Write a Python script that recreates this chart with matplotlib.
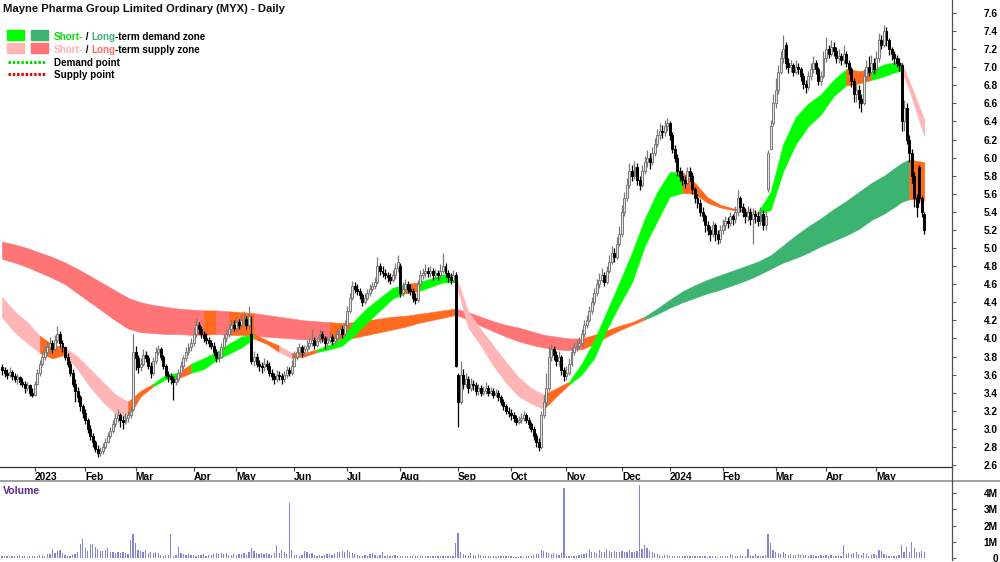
import numpy as np
import pandas as pd
import matplotlib
matplotlib.use("Agg")
import matplotlib.pyplot as plt
from matplotlib.patches import Rectangle
from matplotlib.lines import Line2D

plt.rcParams['font.family'] = ['Liberation Sans', 'DejaVu Sans']

# ---------------- trading calendar ----------------
holidays = ['2022-12-26', '2022-12-27', '2023-01-02', '2023-01-26', '2023-04-07',
            '2023-04-10', '2023-04-25', '2023-06-12', '2023-12-25', '2023-12-26',
            '2024-01-01', '2024-01-26', '2024-03-29', '2024-04-01', '2024-04-25']
first_day, last_day = '2022-12-12', '2024-05-28'

# ---------------- daily prices (A$) ----------------
opens = [
 3.68, 3.65, 3.62, 3.60, 3.63, 3.58, 3.55, 3.57, 3.52, 3.50, 3.45, 3.48, 3.40,
 3.38, 3.50, 3.62, 3.72, 3.80, 3.85, 3.90, 3.95, 3.88, 3.98, 4.05, 3.95, 3.90, 3.80, 3.72, 3.62, 3.50, 3.42, 3.35, 3.25,
 3.18, 3.10, 3.00, 2.92, 2.85, 2.78, 2.73, 2.76, 2.80, 2.86, 2.92, 2.98, 3.05, 3.12, 3.15, 3.10, 3.08, 3.12, 3.15, 3.22,
 3.85, 3.78, 3.68, 3.72, 3.82, 3.78, 3.70, 3.62, 3.75, 3.85, 3.88, 3.80, 3.70, 3.60, 3.58, 3.55, 3.52, 3.55, 3.62, 3.70, 3.78, 3.85, 3.90,
 3.95, 4.05, 4.15, 4.10, 4.05, 4.00, 3.98, 3.95, 3.92, 3.85, 3.78, 3.80, 3.90, 4.00, 4.05, 4.10, 4.15,
 4.12, 4.18, 4.15, 4.20, 4.22, 4.15, 4.05, 3.75, 3.80, 3.72, 3.70, 3.68, 3.72, 3.70, 3.62, 3.58, 3.55, 3.60, 3.58, 3.55, 3.60, 3.65, 3.62,
 3.70, 3.80, 3.85, 3.90, 3.85, 3.88, 3.92, 3.95, 3.98, 3.93, 3.97, 4.05, 4.00, 3.95, 3.98, 4.02, 3.97, 4.00, 4.05, 4.10, 4.05,
 4.15, 4.30, 4.45, 4.58, 4.55, 4.52, 4.48, 4.40, 4.45, 4.50, 4.55, 4.58, 4.62, 4.80, 4.75, 4.72, 4.70, 4.68, 4.65, 4.70, 4.78,
 4.80, 4.50, 4.55, 4.60, 4.55, 4.52, 4.45, 4.42, 4.60, 4.70, 4.72, 4.75, 4.72, 4.75, 4.70, 4.72, 4.70, 4.75, 4.80, 4.72, 4.68, 4.65, 4.70,
 3.60, 3.30, 3.60, 3.50, 3.55, 3.45, 3.50, 3.48, 3.42, 3.45, 3.40, 3.42, 3.45, 3.40, 3.42, 3.38, 3.40, 3.35, 3.30, 3.25, 3.20,
 3.18, 3.15, 3.12, 3.08, 3.10, 3.12, 3.15, 3.10, 3.05, 3.00, 2.92, 2.85, 2.80, 3.15, 3.30, 3.45, 3.80, 3.88, 3.82, 3.75, 3.80, 3.65,
 3.58, 3.62, 3.72, 3.85, 3.90, 3.92, 3.95, 4.05, 4.15, 4.20, 4.30, 4.40, 4.50, 4.60, 4.65, 4.70, 4.62, 4.75, 4.85, 4.95, 4.90, 5.05,
 5.15, 5.40, 5.55, 5.70, 5.85, 5.80, 5.90, 5.75, 5.70, 5.85, 5.95, 6.00, 5.95, 6.05, 6.15, 6.25, 6.30, 6.28, 6.35,
 6.38, 6.25, 6.10, 6.00, 5.85, 5.80, 5.75, 5.72, 5.85, 5.80, 5.65, 5.55, 5.50, 5.40, 5.35, 5.25, 5.20, 5.15, 5.25, 5.15, 5.10,
 5.20, 5.25, 5.30, 5.28, 5.35, 5.32, 5.40, 5.55, 5.45, 5.40, 5.35, 5.40, 5.32, 5.38, 5.35, 5.30, 5.38, 5.25, 5.65, 6.10, 6.38,
 6.60, 6.75, 6.95, 7.10, 7.25, 7.05, 7.00, 7.02, 6.95, 7.00, 6.98, 6.90, 6.82, 6.78, 6.90, 6.98, 7.05, 6.98, 6.85, 6.90,
 7.10, 7.20, 7.15, 7.22, 7.18, 7.10, 7.12, 7.08, 7.15, 7.05, 6.98, 6.85, 6.70, 6.75, 6.65, 6.60, 6.90, 7.00, 6.95, 7.05,
 6.98, 7.10, 7.30, 7.25, 7.40, 7.30, 7.20, 7.15, 7.10, 7.05, 7.02, 6.40, 6.55, 6.20, 6.05, 5.80, 5.55, 5.90, 5.55, 5.38,
]
highs = [
 3.72, 3.68, 3.66, 3.68, 3.65, 3.62, 3.61, 3.59, 3.56, 3.53, 3.52, 3.50, 3.45,
 3.53, 3.66, 3.76, 3.86, 3.92, 3.96, 4.02, 3.98, 4.04, 4.14, 4.08, 3.98, 3.92, 3.84, 3.75, 3.66, 3.55, 3.46, 3.38, 3.28,
 3.22, 3.12, 3.04, 2.95, 2.88, 2.82, 2.80, 2.84, 2.90, 2.96, 3.02, 3.10, 3.18, 3.22, 3.18, 3.14, 3.18, 3.20, 3.25, 4.05,
 3.92, 3.82, 3.78, 3.88, 3.86, 3.82, 3.74, 3.80, 3.90, 3.93, 3.90, 3.82, 3.72, 3.64, 3.62, 3.58, 3.60, 3.66, 3.75, 3.82, 3.90, 3.95, 4.00,
 4.12, 4.23, 4.18, 4.14, 4.08, 4.06, 4.02, 3.98, 3.96, 3.88, 3.86, 3.95, 4.05, 4.10, 4.16, 4.22, 4.20,
 4.24, 4.22, 4.26, 4.30, 4.25, 4.36, 4.25, 3.86, 3.84, 3.76, 3.74, 3.78, 3.76, 3.74, 3.66, 3.62, 3.65, 3.64, 3.62, 3.64, 3.70, 3.68, 3.76,
 3.86, 3.90, 3.95, 3.93, 3.93, 3.98, 4.00, 4.10, 4.02, 4.02, 4.10, 4.08, 4.03, 4.03, 4.07, 4.05, 4.05, 4.10, 4.15, 4.14, 4.20,
 4.36, 4.50, 4.64, 4.62, 4.60, 4.56, 4.50, 4.50, 4.55, 4.60, 4.63, 4.68, 4.90, 4.84, 4.80, 4.77, 4.74, 4.72, 4.76, 4.84, 4.92,
 4.84, 4.62, 4.66, 4.64, 4.60, 4.56, 4.50, 4.65, 4.76, 4.78, 4.82, 4.79, 4.80, 4.78, 4.77, 4.76, 4.82, 4.94, 4.84, 4.76, 4.72, 4.76, 4.74,
 3.62, 3.75, 3.66, 3.62, 3.58, 3.56, 3.54, 3.52, 3.50, 3.48, 3.47, 3.52, 3.48, 3.46, 3.45, 3.44, 3.43, 3.38, 3.33, 3.28, 3.24,
 3.22, 3.19, 3.15, 3.14, 3.17, 3.20, 3.18, 3.13, 3.08, 3.03, 2.95, 2.90, 3.20, 3.36, 3.62, 3.90, 3.94, 3.92, 3.86, 3.86, 3.82, 3.68,
 3.70, 3.78, 3.90, 3.96, 3.98, 4.02, 4.10, 4.20, 4.26, 4.36, 4.46, 4.56, 4.66, 4.72, 4.78, 4.74, 4.80, 4.92, 5.02, 5.00, 5.12, 5.24,
 5.48, 5.62, 5.78, 5.94, 5.92, 5.96, 5.94, 5.80, 5.92, 6.02, 6.08, 6.05, 6.12, 6.22, 6.32, 6.38, 6.36, 6.42, 6.44,
 6.40, 6.28, 6.14, 6.04, 5.90, 5.86, 5.80, 5.90, 5.90, 5.84, 5.68, 5.60, 5.54, 5.45, 5.38, 5.30, 5.24, 5.30, 5.28, 5.20, 5.26,
 5.32, 5.36, 5.34, 5.40, 5.38, 5.46, 5.64, 5.58, 5.50, 5.44, 5.46, 5.44, 5.44, 5.42, 5.40, 5.45, 5.42, 5.42, 6.08, 6.42, 6.70,
 6.88, 7.02, 7.18, 7.36, 7.28, 7.10, 7.08, 7.05, 7.08, 7.05, 7.00, 6.94, 6.86, 6.96, 7.05, 7.12, 7.08, 7.00, 6.96, 7.18,
 7.33, 7.25, 7.30, 7.28, 7.22, 7.20, 7.16, 7.25, 7.18, 7.08, 7.00, 6.88, 6.82, 6.80, 6.70, 6.98, 7.08, 7.12, 7.14, 7.10,
 7.18, 7.38, 7.36, 7.47, 7.44, 7.32, 7.22, 7.18, 7.14, 7.10, 7.05, 6.64, 6.60, 6.25, 6.10, 5.84, 5.60, 5.92, 5.58, 5.40,
]
lows = [
 3.60, 3.57, 3.55, 3.57, 3.54, 3.52, 3.50, 3.48, 3.46, 3.40, 3.42, 3.36, 3.35,
 3.36, 3.48, 3.58, 3.70, 3.76, 3.82, 3.86, 3.84, 3.86, 3.95, 3.90, 3.85, 3.76, 3.68, 3.58, 3.46, 3.30, 3.30, 3.20, 3.12,
 3.05, 2.95, 2.88, 2.80, 2.74, 2.69, 2.70, 2.72, 2.78, 2.84, 2.90, 2.95, 3.02, 3.08, 3.02, 3.00, 3.05, 3.08, 3.12, 3.20,
 3.65, 3.62, 3.64, 3.70, 3.74, 3.66, 3.56, 3.60, 3.72, 3.82, 3.76, 3.66, 3.56, 3.52, 3.50, 3.32, 3.48, 3.52, 3.60, 3.66, 3.75, 3.82, 3.86,
 3.92, 4.02, 4.05, 4.00, 3.96, 3.94, 3.90, 3.88, 3.82, 3.74, 3.74, 3.78, 3.88, 3.96, 4.02, 4.06, 4.08,
 4.08, 4.10, 4.12, 4.16, 4.10, 4.12, 3.72, 3.70, 3.68, 3.64, 3.62, 3.64, 3.65, 3.58, 3.54, 3.50, 3.52, 3.54, 3.50, 3.52, 3.56, 3.58, 3.60,
 3.68, 3.76, 3.82, 3.80, 3.82, 3.85, 3.88, 3.92, 3.88, 3.90, 3.95, 3.96, 3.88, 3.92, 3.95, 3.93, 3.94, 3.97, 4.02, 4.00, 4.03,
 4.12, 4.28, 4.42, 4.50, 4.48, 4.44, 4.36, 4.38, 4.42, 4.47, 4.52, 4.55, 4.60, 4.70, 4.68, 4.66, 4.63, 4.60, 4.62, 4.66, 4.74,
 4.46, 4.47, 4.52, 4.50, 4.48, 4.40, 4.38, 4.40, 4.58, 4.66, 4.68, 4.68, 4.68, 4.65, 4.66, 4.65, 4.67, 4.72, 4.68, 4.62, 4.60, 4.62, 3.68,
 3.02, 3.28, 3.44, 3.46, 3.40, 3.42, 3.43, 3.38, 3.38, 3.36, 3.37, 3.39, 3.36, 3.37, 3.34, 3.35, 3.31, 3.26, 3.21, 3.16, 3.13,
 3.10, 3.08, 3.04, 3.05, 3.07, 3.09, 3.06, 3.01, 2.96, 2.88, 2.80, 2.76, 2.78, 3.12, 3.25, 3.42, 3.75, 3.76, 3.70, 3.70, 3.60, 3.53,
 3.54, 3.60, 3.70, 3.82, 3.86, 3.88, 3.92, 4.02, 4.12, 4.18, 4.27, 4.37, 4.47, 4.56, 4.62, 4.58, 4.60, 4.72, 4.82, 4.85, 4.88, 5.02,
 5.12, 5.36, 5.52, 5.66, 5.74, 5.76, 5.70, 5.64, 5.68, 5.82, 5.90, 5.88, 5.92, 6.02, 6.12, 6.20, 6.22, 6.24, 6.30,
 6.20, 6.05, 5.95, 5.80, 5.74, 5.70, 5.66, 5.70, 5.74, 5.60, 5.50, 5.44, 5.35, 5.30, 5.18, 5.14, 5.08, 5.12, 5.08, 5.04, 5.06,
 5.16, 5.20, 5.22, 5.24, 5.26, 5.28, 5.36, 5.40, 5.34, 5.28, 5.30, 5.26, 5.05, 5.28, 5.24, 5.26, 5.20, 5.20, 5.62, 6.08, 6.35,
 6.55, 6.70, 6.92, 7.05, 6.98, 6.94, 6.95, 6.90, 6.92, 6.92, 6.85, 6.76, 6.72, 6.75, 6.86, 6.94, 6.92, 6.80, 6.80, 6.88,
 7.06, 7.10, 7.12, 7.12, 7.05, 7.05, 7.02, 7.04, 7.00, 6.92, 6.78, 6.62, 6.62, 6.55, 6.50, 6.58, 6.86, 6.90, 6.92, 6.92,
 6.94, 7.06, 7.20, 7.22, 7.24, 7.14, 7.08, 7.04, 7.00, 6.96, 6.30, 6.30, 6.15, 5.95, 5.72, 5.45, 5.34, 5.50, 5.34, 5.16,
]
closes = [
 3.65, 3.62, 3.60, 3.63, 3.58, 3.55, 3.57, 3.52, 3.50, 3.45, 3.48, 3.40, 3.38,
 3.50, 3.62, 3.72, 3.80, 3.85, 3.90, 3.95, 3.88, 3.98, 4.05, 3.95, 3.90, 3.80, 3.72, 3.62, 3.50, 3.42, 3.35, 3.25, 3.18,
 3.10, 3.00, 2.92, 2.85, 2.78, 2.73, 2.76, 2.80, 2.86, 2.92, 2.98, 3.05, 3.12, 3.15, 3.10, 3.08, 3.12, 3.15, 3.20, 3.85,
 3.78, 3.68, 3.72, 3.82, 3.78, 3.70, 3.62, 3.75, 3.85, 3.88, 3.80, 3.70, 3.60, 3.58, 3.55, 3.52, 3.55, 3.62, 3.70, 3.78, 3.85, 3.90, 3.95,
 4.05, 4.15, 4.10, 4.05, 4.00, 3.98, 3.95, 3.92, 3.85, 3.78, 3.80, 3.90, 4.00, 4.05, 4.10, 4.15, 4.12,
 4.18, 4.15, 4.20, 4.22, 4.15, 4.25, 3.75, 3.80, 3.72, 3.70, 3.68, 3.72, 3.70, 3.62, 3.58, 3.55, 3.60, 3.58, 3.55, 3.60, 3.65, 3.62, 3.70,
 3.80, 3.85, 3.90, 3.85, 3.88, 3.92, 3.95, 3.98, 3.93, 3.97, 4.05, 4.00, 3.95, 3.98, 4.02, 3.97, 4.00, 4.05, 4.10, 4.05, 4.15,
 4.30, 4.45, 4.58, 4.55, 4.52, 4.48, 4.40, 4.45, 4.50, 4.55, 4.58, 4.62, 4.80, 4.75, 4.72, 4.70, 4.68, 4.65, 4.70, 4.78, 4.85,
 4.50, 4.55, 4.60, 4.55, 4.52, 4.45, 4.42, 4.60, 4.70, 4.72, 4.75, 4.72, 4.75, 4.70, 4.72, 4.70, 4.75, 4.80, 4.72, 4.68, 4.65, 4.70, 3.70,
 3.30, 3.60, 3.50, 3.55, 3.45, 3.50, 3.48, 3.42, 3.45, 3.40, 3.42, 3.45, 3.40, 3.42, 3.38, 3.40, 3.35, 3.30, 3.25, 3.20, 3.18,
 3.15, 3.12, 3.08, 3.10, 3.12, 3.15, 3.10, 3.05, 3.00, 2.92, 2.85, 2.80, 3.15, 3.30, 3.45, 3.80, 3.88, 3.82, 3.75, 3.80, 3.65, 3.58,
 3.62, 3.72, 3.85, 3.90, 3.92, 3.95, 4.05, 4.15, 4.20, 4.30, 4.40, 4.50, 4.60, 4.65, 4.70, 4.62, 4.75, 4.85, 4.95, 4.90, 5.05, 5.15,
 5.40, 5.55, 5.70, 5.85, 5.80, 5.90, 5.75, 5.70, 5.85, 5.95, 6.00, 5.95, 6.05, 6.15, 6.25, 6.30, 6.28, 6.35, 6.38,
 6.25, 6.10, 6.00, 5.85, 5.80, 5.75, 5.72, 5.85, 5.80, 5.65, 5.55, 5.50, 5.40, 5.35, 5.25, 5.20, 5.15, 5.25, 5.15, 5.10, 5.20,
 5.25, 5.30, 5.28, 5.35, 5.32, 5.40, 5.55, 5.45, 5.40, 5.35, 5.40, 5.32, 5.38, 5.35, 5.30, 5.38, 5.25, 5.35, 6.05, 6.35, 6.60,
 6.75, 6.95, 7.10, 7.20, 7.05, 7.00, 7.02, 6.95, 7.00, 6.98, 6.90, 6.82, 6.78, 6.90, 6.98, 7.05, 6.98, 6.85, 6.90, 7.10,
 7.20, 7.15, 7.22, 7.18, 7.10, 7.12, 7.08, 7.15, 7.05, 6.98, 6.85, 6.70, 6.75, 6.65, 6.60, 6.90, 7.00, 6.95, 7.05, 6.98,
 7.10, 7.30, 7.25, 7.40, 7.30, 7.20, 7.15, 7.10, 7.05, 7.02, 6.40, 6.55, 6.20, 6.05, 5.80, 5.55, 5.45, 5.55, 5.40, 5.20,
]
# daily volume, millions of shares
volumes = [
 0.12, 0.10, 0.15, 0.08, 0.12, 0.10, 0.14, 0.18, 0.12, 0.10, 0.08, 0.12, 0.15,
 0.15, 0.12, 0.18, 0.20, 0.15, 0.25, 0.22, 0.55, 0.30, 0.45, 0.50, 0.30, 0.20, 0.15, 0.10, 0.18, 0.25, 0.40, 0.85, 1.20,
 0.60, 0.45, 0.85, 0.85, 0.70, 0.55, 0.45, 0.45, 0.50, 0.60, 0.40, 0.35, 0.30, 0.35, 0.28, 0.40, 0.30, 0.25, 1.10, 1.50,
 0.90, 0.50, 0.45, 0.40, 0.50, 0.30, 0.35, 0.30, 0.35, 0.30, 0.20, 0.15, 0.20, 0.20, 1.50, 0.12, 0.20, 0.70, 0.30, 0.22, 0.20, 0.25, 0.18,
 0.20, 0.15, 0.18, 0.20, 0.22, 0.15, 0.18, 0.20, 0.25, 0.30, 0.22, 0.30, 0.25, 0.28, 0.20, 0.18, 0.22,
 0.20, 0.25, 0.22, 0.30, 0.20, 0.35, 0.60, 0.45, 0.30, 0.25, 0.28, 0.22, 0.30, 0.25, 0.20, 0.28, 0.80, 0.30, 0.50, 0.35, 0.25, 3.40, 0.50,
 0.20, 0.18, 0.15, 0.20, 0.45, 0.40, 0.22, 0.30, 0.18, 0.15, 0.20, 0.12, 0.18, 0.22, 0.25, 0.20, 0.28, 0.35, 0.40, 0.45, 0.35,
 0.50, 0.40, 0.30, 0.25, 0.20, 0.15, 0.12, 0.18, 0.15, 0.22, 0.30, 0.20, 0.15, 0.18, 0.40, 0.15, 0.18, 0.12, 0.15, 0.18, 0.14,
 0.15, 0.12, 0.14, 0.10, 0.12, 0.15, 0.12, 0.10, 0.14, 0.12, 0.10, 0.12, 0.15, 0.10, 0.12, 0.14, 0.12, 0.10, 0.12, 0.15, 0.12, 0.14, 0.90,
 1.55, 0.35, 0.25, 0.20, 0.15, 0.28, 0.20, 0.15, 0.22, 0.18, 0.12, 0.10, 0.12, 0.15, 0.10, 0.08, 0.10, 0.12, 0.10, 0.12, 0.10,
 0.10, 0.08, 0.06, 0.08, 0.10, 0.08, 0.10, 0.12, 0.15, 0.20, 0.22, 0.25, 0.50, 0.45, 0.35, 0.30, 0.25, 0.30, 0.25, 0.20, 0.30, 4.30,
 0.15, 0.12, 0.10, 0.12, 0.15, 0.20, 0.22, 0.25, 0.30, 0.55, 0.35, 0.40, 0.30, 0.50, 0.35, 0.40, 0.55, 0.45, 0.40, 0.45, 0.35, 0.40,
 0.45, 0.40, 0.35, 0.50, 0.40, 0.35, 0.45, 4.50, 0.55, 0.80, 0.60, 0.45, 0.40, 0.30, 0.25, 0.20, 0.15, 0.20, 0.18,
 0.15, 0.12, 0.10, 0.12, 0.15, 0.12, 0.10, 0.12, 0.14, 0.12, 0.10, 0.15, 0.12, 0.10, 0.12, 0.08, 0.10, 0.12, 0.10, 0.08, 0.10,
 0.10, 0.12, 0.15, 0.25, 0.20, 0.15, 0.12, 0.20, 0.15, 0.12, 0.55, 0.20, 0.15, 0.25, 0.12, 0.10, 0.15, 0.20, 1.45, 0.90, 0.50,
 0.40, 0.30, 0.25, 0.35, 0.25, 0.20, 0.22, 0.20, 0.18, 0.22, 0.20, 0.18, 0.20, 0.15, 0.18, 0.20, 0.12, 0.15, 0.20, 0.15,
 0.18, 0.15, 0.20, 0.12, 0.15, 0.20, 0.10, 0.80, 0.25, 0.30, 0.22, 0.28, 0.35, 0.25, 0.20, 0.30, 0.25, 0.15, 0.20, 0.25,
 0.20, 0.50, 0.45, 0.25, 0.20, 0.15, 0.12, 0.15, 0.10, 0.20, 0.80, 0.40, 0.70, 0.35, 1.00, 0.60, 0.35, 0.40, 0.45, 0.40,
]

# ---------------- zone bands (read at sampled bars) ----------------
band_idx = list(range(0, 356, 5)) + [357, 360, 366]
st_top = [4.46, 4.30, 4.18, 4.03, 3.93, 3.90, 3.80, 3.66, 3.52, 3.38,
          3.30, 3.42, 3.50, 3.60, 3.62, 3.72, 3.78, 3.85, 3.94, 4.02,
          4.05, 3.98, 3.92, 3.84, 3.84, 3.88, 3.93, 4.00, 4.20, 4.34,
          4.45, 4.56, 4.60, 4.62, 4.66, 4.71, 4.70, 4.30, 4.10, 3.92,
          3.74, 3.57, 3.45, 3.38, 3.45, 3.52, 3.72, 3.98, 4.30, 4.62,
          4.95, 5.32, 5.62, 5.84, 5.84, 5.72, 5.56, 5.48, 5.44, 5.42,
          5.40, 5.62, 6.15, 6.45, 6.60, 6.70, 6.86, 6.98, 6.96, 6.97,
          7.03, 7.06, 7.05, 6.85, 6.42]
st_bot = [4.23, 4.07, 3.95, 3.84, 3.78, 3.82, 3.66, 3.46, 3.30, 3.17,
          3.12, 3.36, 3.47, 3.55, 3.56, 3.62, 3.66, 3.76, 3.83, 3.90,
          4.00, 3.94, 3.85, 3.78, 3.80, 3.85, 3.88, 3.92, 4.04, 4.18,
          4.31, 4.44, 4.50, 4.52, 4.57, 4.62, 4.62, 4.12, 3.92, 3.70,
          3.51, 3.36, 3.28, 3.22, 3.36, 3.49, 3.60, 3.78, 4.10, 4.37,
          4.62, 5.02, 5.30, 5.57, 5.61, 5.60, 5.50, 5.45, 5.42, 5.41,
          5.38, 5.42, 5.85, 6.15, 6.35, 6.48, 6.68, 6.80, 6.82, 6.86,
          6.90, 6.95, 6.96, 6.75, 6.24]
st_state = "PPPOOPPPPP" "OOGGOGGGGG" "OOPOOGGGGG" "GGOGGGPPPP" "PPPOOGGGGG" \
           "GGGGOOOOOP" "GGGGGGGOOG" "GGPP"
lt_top = [5.07, 5.04, 5.00, 4.95, 4.90, 4.84, 4.77, 4.69, 4.61, 4.53,
          4.45, 4.40, 4.37, 4.35, 4.33, 4.32, 4.31, 4.31, 4.30, 4.29,
          4.28, 4.26, 4.24, 4.22, 4.20, 4.19, 4.18, 4.17, 4.18, 4.20,
          4.22, 4.24, 4.25, 4.27, 4.29, 4.31, 4.33, 4.29, 4.24, 4.19,
          4.15, 4.12, 4.08, 4.04, 4.02, 4.00, 4.00, 4.04, 4.09, 4.14,
          4.18, 4.24, 4.33, 4.43, 4.52, 4.59, 4.65, 4.70, 4.75, 4.80,
          4.85, 4.92, 5.03, 5.14, 5.24, 5.33, 5.43, 5.52, 5.62, 5.72,
          5.80, 5.90, 5.94, 5.98, 5.95]
lt_bot = [4.88, 4.84, 4.79, 4.73, 4.67, 4.60, 4.50, 4.40, 4.30, 4.20,
          4.11, 4.07, 4.06, 4.05, 4.05, 4.04, 4.04, 4.05, 4.04, 4.04,
          4.03, 4.02, 4.01, 4.00, 3.99, 3.99, 3.98, 3.99, 4.01, 4.04,
          4.07, 4.10, 4.13, 4.17, 4.20, 4.23, 4.26, 4.21, 4.14, 4.08,
          4.02, 3.97, 3.93, 3.90, 3.88, 3.87, 3.88, 3.94, 4.02, 4.09,
          4.15, 4.21, 4.27, 4.34, 4.40, 4.45, 4.50, 4.54, 4.59, 4.64,
          4.70, 4.77, 4.84, 4.89, 4.95, 5.02, 5.08, 5.14, 5.21, 5.31,
          5.38, 5.47, 5.51, 5.54, 5.53]
lt_state = "RRRRRRRRRR" "RRRRRROROO" "RRRRRROOOO" "OOOOOORRRR" "RRRRRROOOO" \
           "ODDDDDDDDD" "DDDDDDDDDD" "DDDO"

legend_rows = [
    [("Short-", "#00e000"), (" / ", "black"), ("Long", "#3cb371"), ("-term demand zone", "black")],
    [("Short-", "#ffb0b0"), (" / ", "black"), ("Long", "#ff6b6b"), ("-term supply zone", "black")],
    [("Demand point", "black")],
    [("Supply point", "black")],
]
title = "Mayne Pharma Group Limited Ordinary (MYX) - Daily"

# ---------------- colours ----------------
zone_colors = {"G": "#00ff00", "D": "#3cb371", "P": "#ffb5b5",
               "R": "#ff7474", "O": "#ff6a1f"}
up_edge, up_face, down_col = "#7a7a7a", "#e4e4e4", "#000000"
vol_col = "#8585d8"

# ---------------- build ----------------
dates = pd.bdate_range(first_day, last_day)
dates = dates[~dates.isin(pd.to_datetime(holidays))]
n = min(len(dates), len(closes), len(opens), len(highs), len(lows), len(volumes))
dates = dates[:n]
o = np.array(opens[:n]); c = np.array(closes[:n])
h = np.array(highs[:n]); l = np.array(lows[:n]); v = np.array(volumes[:n])
h = np.maximum(h, np.maximum(o, c)); l = np.minimum(l, np.minimum(o, c))
x = np.arange(n)

W, H = 1000, 562
fig = plt.figure(figsize=(W / 100, H / 100), dpi=100)
fx = lambda px: px / W
fy = lambda py: 1 - py / H

ax = fig.add_axes([0, fy(467), fx(952), 467 / H])
axv = fig.add_axes([0, fy(560), fx(952), (560 - 481) / H])

def draw_band(axis, idx, top, bot, states, z):
    idx = np.asarray(idx, float); top = np.asarray(top); bot = np.asarray(bot)
    m = len(states); k = 0
    while k < m:
        j = k
        while j + 1 < m and states[j + 1] == states[k]:
            j += 1
        sl = slice(k, j + 2)
        col = zone_colors[states[k]]
        axis.fill_between(idx[sl], bot[sl], top[sl], color=col, ec=col,
                          lw=0.4, zorder=z)
        k = j + 1

draw_band(ax, band_idx, lt_top, lt_bot, lt_state, 1)
draw_band(ax, band_idx, st_top, st_bot, st_state, 2)

up = c >= o
wick_cols = np.where(up, up_edge, down_col)
ax.vlines(x, l, h, colors=wick_cols, lw=0.9, zorder=3)
body_h = np.where(np.abs(c - o) < 0.01, 0.01, c - o)
ax.bar(x[up], body_h[up], bottom=o[up], width=0.78, color=up_face,
       edgecolor=up_edge, lw=0.7, zorder=4)
ax.bar(x[~up], body_h[~up], bottom=o[~up], width=0.78, color=down_col,
       edgecolor=down_col, lw=0.7, zorder=4)

xmin, xmax = -0.8, 377
ax.set_xlim(xmin, xmax)
ax.set_ylim(2.578, 7.744)
axv.set_xlim(xmin, xmax)
axv.set_ylim(-0.12, 4.74)
axv.bar(x, v, width=0.5, color=vol_col, lw=0)

# month ticks from calendar
ser = pd.Series(x, index=dates)
firsts = ser.groupby([dates.year, dates.month]).min()
tick_pos, tick_lab = [], []
for (yy, mm), pos in firsts.items():
    if pos == 0:
        continue
    tick_pos.append(pos)
    tick_lab.append(str(yy) if mm == 1 else pd.Timestamp(yy, mm, 1).strftime('%b'))
ax.set_xticks(tick_pos, tick_lab)
ax.tick_params(axis='x', direction='out', length=3, width=0.8, color='#404040',
               pad=0.5, labelsize=7.4)
for t in ax.get_xticklabels():
    t.set_fontweight('bold'); t.set_ha('left')

yt = np.round(np.arange(2.6, 7.61, 0.2), 1)
ax.yaxis.tick_right()
ax.set_yticks(yt, [f"{t:.1f}" for t in yt])
ax.tick_params(axis='y', direction='out', length=3, width=0.8, color='#606060',
               pad=30, labelsize=7.3)
for t in ax.get_yticklabels():
    t.set_fontweight('bold'); t.set_ha('right')

axv.yaxis.tick_right()
axv.set_yticks([0, 1, 2, 3, 4], ['0', '1M', '2M', '3M', '4M'])
axv.tick_params(axis='y', direction='out', length=3, width=0.8, color='#606060',
                pad=30, labelsize=7.3)
for t in axv.get_yticklabels():
    t.set_fontweight('bold'); t.set_ha('right')
axv.set_xticks([])

for a in (ax, axv):
    for s in ('left', 'top'):
        a.spines[s].set_visible(False)
    a.spines['right'].set_color('#505050')
    a.spines['right'].set_linewidth(0.9)
ax.spines['bottom'].set_color('#303030')
ax.spines['bottom'].set_linewidth(0.9)
axv.spines['bottom'].set_visible(False)

fig.add_artist(Line2D([0, 1], [fy(481), fy(481)], transform=fig.transFigure,
                      color='#9a9a9a', lw=1.3))
fig.add_artist(Line2D([fx(952), fx(952)], [fy(467), fy(481)],
                      transform=fig.transFigure, color='#505050', lw=0.9))

# title & volume label
fig.text(fx(3), fy(14), title, fontsize=8.1, fontweight='bold', ha='left',
         va='bottom', color='#111111')
fig.text(fx(3), fy(496), "Volume", fontsize=7.6, fontweight='bold', ha='left',
         va='bottom', color='#5a2a8c')

# legend
sq = [("#00ff00", "#3cb371", 30), ("#ffb5b5", "#ff7474", 43)]
for c1, c2, yy in sq:
    fig.add_artist(Rectangle((fx(7), fy(yy + 10)), fx(17), 10 / H, color=c1,
                             transform=fig.transFigure))
    fig.add_artist(Rectangle((fx(31), fy(yy + 10)), fx(17), 10 / H, color=c2,
                             transform=fig.transFigure))
fig.add_artist(Line2D([fx(8), fx(45)], [fy(62), fy(62)], transform=fig.transFigure,
                      color='#00dd00', lw=2.2, ls=(0, (0.8, 0.6))))
fig.add_artist(Line2D([fx(8), fx(45)], [fy(74), fy(74)], transform=fig.transFigure,
                      color='#ee0000', lw=2.2, ls=(0, (0.8, 0.6))))

row_bottoms = [42, 55, 68, 80.5]
for parts, yb in zip(legend_rows, row_bottoms):
    t = fig.text(fx(54), fy(yb), parts[0][0], color=parts[0][1], fontsize=7.1,
                 fontweight='bold', ha='left', va='bottom')
    for s, col in parts[1:]:
        t = ax.annotate(s, xy=(1, 0), xycoords=t, ha='left', va='bottom',
                        color=col, fontsize=7.1, fontweight='bold',
                        annotation_clip=False)

fig.savefig('out.png', dpi=100)
